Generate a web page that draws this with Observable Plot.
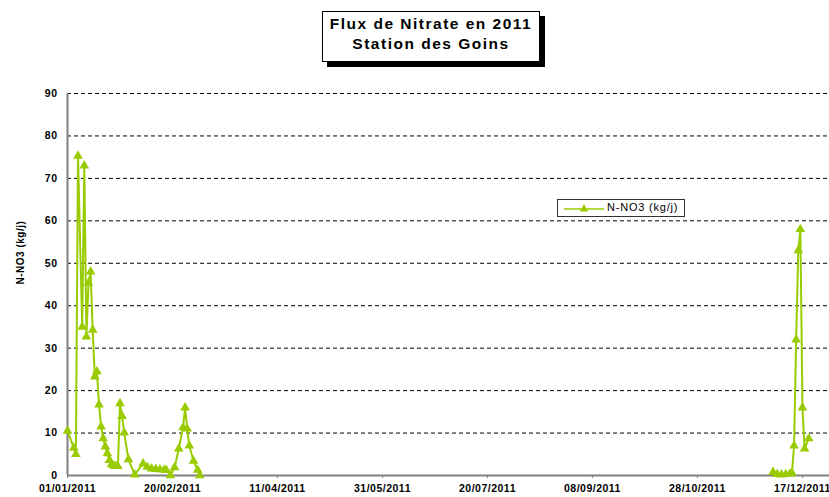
<!DOCTYPE html>
<html>
<head>
<meta charset="utf-8">
<script src="https://cdn.jsdelivr.net/npm/d3@7"></script>
<script src="https://cdn.jsdelivr.net/npm/@observablehq/plot@0.6"></script>
<style>
  html, body { margin: 0; padding: 0; background: #fff; overflow: hidden; }
  #wrap { position: relative; width: 829px; height: 497px; font-family: Arial, "Liberation Sans", sans-serif; }
  #title { position: absolute; left: 322px; top: 11px; width: 216px; height: 47px; border: 1px solid #000;
           box-shadow: 5px 5px 0 #000; background: #fff; text-align: center; font-weight: bold;
           font-size: 15.5px; letter-spacing: 1.5px; line-height: 20px; padding-top: 2px; box-sizing: content-box; }
  #legend { position: absolute; left: 557px; top: 199px; width: 126px; height: 16px; border: 1px solid #333; background: #fff; }
  #legend span { position: absolute; left: 49px; top: 1px; font-size: 11px; letter-spacing: 0.8px; color: #000; }
  #legend svg { position: absolute; left: 0; top: 0; }
</style>
</head>
<body>
<div id="wrap">
  <div id="chart"></div>
  <div id="title">Flux de Nitrate en 2011<br>Station des Goins</div>
  <div id="legend"><svg width="50" height="16"></svg><span></span></div>
</div>
<script>
// ---- data ----
const seriesName = "N-NO3 (kg/j)";
const yLabel = "N-NO3 (kg/j)";
const dates = [
  "2011-01-01","2011-01-04","2011-01-05","2011-01-06","2011-01-08","2011-01-09","2011-01-10",
  "2011-01-11","2011-01-12","2011-01-13","2011-01-14","2011-01-15","2011-01-16","2011-01-17",
  "2011-01-18","2011-01-19","2011-01-20","2011-01-21","2011-01-22","2011-01-23","2011-01-24",
  "2011-01-25","2011-01-26","2011-01-27","2011-01-28","2011-01-30","2011-02-02","2011-02-06",
  "2011-02-08","2011-02-10","2011-02-12","2011-02-14","2011-02-16","2011-02-17","2011-02-19",
  "2011-02-21","2011-02-23","2011-02-25","2011-02-26","2011-02-27","2011-02-28","2011-03-02",
  "2011-03-04","2011-03-05",
  "2011-06-01",
  "2011-12-03","2011-12-05","2011-12-07","2011-12-09","2011-12-11","2011-12-12","2011-12-13",
  "2011-12-14","2011-12-15","2011-12-16","2011-12-17","2011-12-18","2011-12-20"
];
const values = [
  10.5, 6.5, 5.0, 75.3, 35.0, 73.0, 32.7,
  45.4, 48.0, 34.3, 23.3, 24.5, 16.7, 11.5,
  8.7, 6.8, 5.2, 3.6, 2.6, 2.3, 2.2,
  2.2, 17.0, 14.0, 10.1, 3.8, 0.2, 2.8,
  2.0, 1.6, 1.5, 1.4, 1.3, 1.3, 0.0,
  1.9, 6.3, 11.3, 16.0, 11.0, 7.0, 3.4,
  1.3, 0.0,
  null,
  0.8, 0.3, 0.2, 0.3, 0.4, 0.6, 7.0,
  32.0, 53.0, 58.0, 16.0, 6.3, 8.7
];
const xTicks = ["2011-01-01","2011-02-20","2011-04-11","2011-05-31","2011-07-20","2011-09-08","2011-10-28","2011-12-17"];
const yTicks = [0, 10, 20, 30, 40, 50, 60, 70, 80, 90];

// ---- build ----
const parse = d3.utcParse("%Y-%m-%d");
const data = dates.map((d, i) => ({date: parse(d), value: values[i]}));
const xStart = parse("2011-01-01");
const xEnd = new Date(Date.UTC(2011, 11, 29, 21));
const green = "#99CC00";
const axisGray = "#808080";

const chart = Plot.plot({
  width: 829,
  height: 497,
  marginTop: 93,
  marginBottom: 22,
  marginLeft: 67,
  marginRight: 0,
  style: {fontFamily: "Arial, 'Liberation Sans', sans-serif", background: "#fff", color: "#000", letterSpacing: "0.5px"},
  x: {type: "utc", domain: [xStart, xEnd]},
  y: {domain: [0, 90]},
  marks: [
    Plot.ruleY(yTicks.filter(t => t > 0), {stroke: "#000", strokeWidth: 1, strokeDasharray: "4,3"}),
    Plot.axisY({ticks: yTicks, tickSize: 0, tickPadding: 10, fontWeight: "bold", fontSize: 10.5, label: null}),
    Plot.text([yLabel], {frameAnchor: "left", dx: -47, rotate: -90, fontWeight: "bold", fontSize: 10, fill: "#000"}),
    Plot.axisX({ticks: xTicks.map(parse), tickFormat: d3.utcFormat("%d/%m/%Y"), tickSize: 3, tickPadding: 6,
                stroke: axisGray, fontWeight: "bold", fontSize: 10.5, label: null}),
    Plot.ruleX([xStart], {stroke: axisGray, strokeWidth: 2}),
    Plot.ruleY([0], {stroke: axisGray, strokeWidth: 2}),
    Plot.line(data, {x: "date", y: "value", stroke: green, strokeWidth: 2}),
    Plot.dot(data, {x: "date", y: "value", symbol: "triangle", fill: green, stroke: "none", r: 3.6})
  ]
});
document.getElementById("chart").appendChild(chart);

// legend (real text)
const lg = d3.select("#legend svg");
lg.append("line").attr("x1", 6).attr("x2", 46).attr("y1", 9).attr("y2", 9).attr("stroke", green).attr("stroke-width", 1.5);
lg.append("path").attr("d", d3.symbol(d3.symbolTriangle, 30)()).attr("transform", "translate(26,9)").attr("fill", green);
document.querySelector("#legend span").textContent = seriesName;
</script>
</body>
</html>
